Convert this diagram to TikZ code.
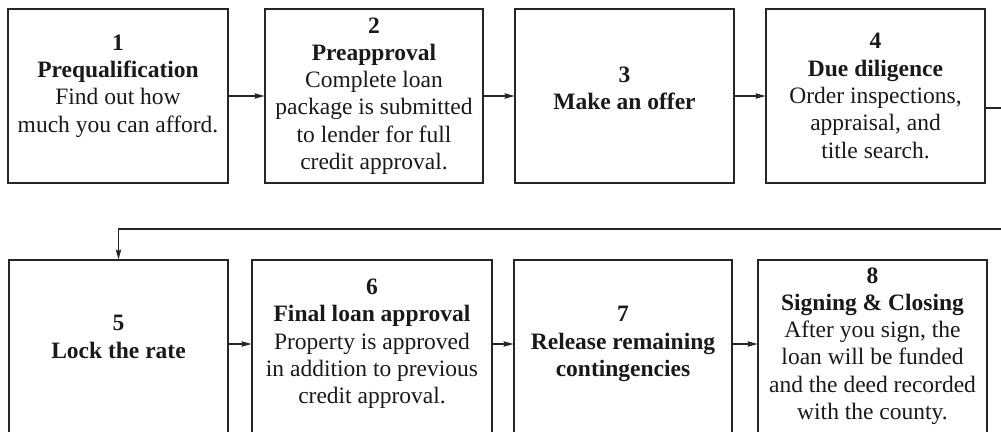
\documentclass[tikz,border=0pt]{standalone}
\usepackage{fontspec}
\setmainfont{Liberation Serif}
\usetikzlibrary{arrows.meta}

\tikzset{
  stepbox/.style={draw=black!85, line width=1.1pt, inner sep=0pt, minimum height=174pt},
  steptext/.style={align=center, inner sep=0pt, text=black!90, font=\fontsize{23.5}{27.3}\selectfont},
  flow/.style={draw=black!85, line width=1.1pt, -{Stealth[length=10pt,width=5.5pt,inset=1.5pt]}}
}

\begin{document}
\begin{tikzpicture}[x=1pt,y=-1pt]
  \path[use as bounding box, clip] (0,0) rectangle (1001,431);

  % first row
  \node[stepbox, minimum width=220pt] (s1) at (118,96) {};
  \node[stepbox, minimum width=218pt] (s2) at (374,96) {};
  \node[stepbox, minimum width=219pt] (s3) at (624.5,96) {};
  \node[stepbox, minimum width=219pt] (s4) at (875.5,96) {};

  \node[steptext, yshift=10pt] (t1) at (s1) {\textbf{1}\\\textbf{Prequalification}\\Find out how\\much you can afford.};
  \node[steptext] (t2) at (s2) {\textbf{2}\\\textbf{Preapproval}\\Complete loan\\package is submitted\\to lender for full\\credit approval.};
  \node[steptext, yshift=8pt] (t3) at (s3) {\textbf{3}\\\textbf{Make an offer}};
  \node[steptext] (t4) at (s4) {\textbf{4}\\\textbf{Due diligence}\\Order inspections,\\appraisal, and\\title search.};

  % second row (runs off the bottom edge)
  \begin{scope}[every node/.append style={minimum height=184pt}]
    \node[stepbox, minimum width=219pt] (s5) at (118.5,347) {};
    \node[stepbox, minimum width=240pt] (s6) at (372,347) {};
    \node[stepbox, minimum width=218pt] (s7) at (623,347) {};
    \node[stepbox, minimum width=229pt] (s8) at (872.5,347) {};
  \end{scope}

  \node[steptext, yshift=10pt] (t5) at (s5) {\textbf{5}\\\textbf{Lock the rate}};
  \node[steptext, yshift=3pt] (t6) at (s6) {\textbf{6}\\\textbf{Final loan approval}\\Property is approved\\in addition to previous\\credit approval.};
  \node[steptext, yshift=3pt] (t7) at (s7) {\textbf{7}\\\textbf{Release remaining}\\\textbf{contingencies}};
  \node[steptext, yshift=1pt] (t8) at (s8) {\textbf{8}\\\textbf{Signing \& Closing}\\After you sign, the\\loan will be funded\\and the deed recorded\\with the county.};

  % connectors
  \draw[flow] (s1) -- (s2);
  \draw[flow] (s2) -- (s3);
  \draw[flow] (s3) -- (s4);
  \draw[flow] ([yshift=3pt]s5.east) -- ([yshift=3pt]s6.west);
  \draw[flow] ([yshift=3pt]s6.east) -- ([yshift=3pt]s7.west);
  \draw[flow] ([yshift=3pt]s7.east) -- ([yshift=3pt]s8.west);

  \coordinate (r1) at (1012,108);
  \coordinate (r2) at (1012,229);
  \draw[flow] (s4.east |- r1) -- (r1) -- (r2) -- (s5.north |- r2) -- (s5.north);
\end{tikzpicture}
\end{document}
